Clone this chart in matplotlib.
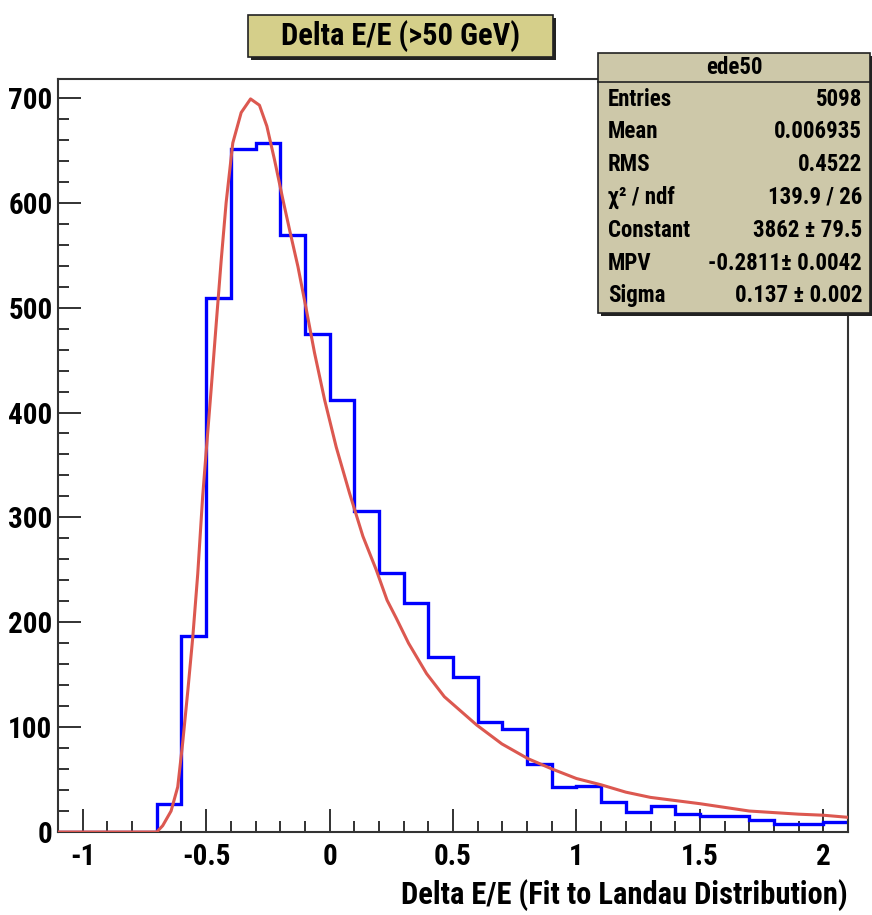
import matplotlib
matplotlib.use('Agg')
import matplotlib.pyplot as plt
from matplotlib.patches import Rectangle
from matplotlib.ticker import MultipleLocator
from matplotlib import font_manager
import numpy as np

# ---------------- data ----------------
bin_low = -1.1
bin_width = 0.1
counts = [0, 0, 0, 0,
          27, 187, 509, 651, 657, 569, 475, 412,
          306, 247, 218, 167, 148, 105, 98, 65, 43, 44,
          29, 19, 25, 17, 15, 15, 11, 8, 8, 10]

fit_x = [-1.1, -0.7, -0.676, -0.642, -0.615, -0.595, -0.574, -0.554, -0.534,
         -0.514, -0.500, -0.480, -0.459, -0.439, -0.419, -0.392, -0.358,
         -0.320, -0.284, -0.254, -0.223, -0.189, -0.159, -0.128, -0.094,
         -0.061, -0.020, 0.027, 0.081, 0.135, 0.189, 0.233, 0.270, 0.32,
         0.393, 0.465, 0.596, 0.698, 0.803, 0.902, 1.0, 1.1, 1.2, 1.3, 1.5,
         1.7, 1.9, 2.0, 2.1]
fit_y = [0, 0, 6, 20, 43, 85, 135, 186, 246,
         320, 362, 421, 485, 545, 600, 657, 686,
         699, 693, 673, 641, 603, 571, 539, 498,
         457, 412, 367, 323, 282, 250, 221, 204, 180,
         151, 129, 102, 84, 70, 60, 51, 45, 38, 33, 27,
         20, 17, 16, 14]

x_ticks = [-1, -0.5, 0, 0.5, 1, 1.5, 2]
x_tick_labels = ['-1', '-0.5', '0', '0.5', '1', '1.5', '2']
y_ticks = [0, 100, 200, 300, 400, 500, 600, 700]
y_tick_labels = ['0', '100', '200', '300', '400', '500', '600', '700']

title = 'Delta E/E (>50 GeV)'
x_label = 'Delta E/E (Fit to Landau Distribution)'
stats_name = 'ede50'
stats_labels = ['Entries', 'Mean', 'RMS', 'χ² / ndf', 'Constant', 'MPV', 'Sigma']
stats_values = ['5098', '0.006935', '0.4522', '139.9 / 26',
                '3862 ± 79.5', '-0.2811± 0.0042', '0.137 ± 0.002']

# ---------------- style ----------------
available = {f.name for f in font_manager.fontManager.ttflist}
FONT = [n for n in ['Roboto Condensed', 'Liberation Sans Narrow',
                    'Liberation Sans', 'DejaVu Sans'] if n in available]
plt.rcParams['font.family'] = FONT
plt.rcParams['font.weight'] = 'bold'

W, H = 872, 915
fig = plt.figure(figsize=(W / 100, H / 100), dpi=100)

def fx(px):
    return px / W

def fy(py):
    return 1 - py / H

ax_left, ax_right, ax_top, ax_bottom = 58, 848, 79, 832
ax = fig.add_axes([fx(ax_left), fy(ax_bottom), fx(ax_right - ax_left),
                   (ax_bottom - ax_top) / H])

edges = bin_low + bin_width * np.arange(len(counts) + 1)
ax.stairs(counts, edges, color='#0000ff', lw=2.4, baseline=None, zorder=2)
ax.plot(fit_x, fit_y, color='#dc5850', lw=2.2, zorder=3)

ax.set_xlim(edges[0], edges[-1])
ax.set_ylim(0, 718)

ax.set_xticks(x_ticks)
ax.set_xticklabels(x_tick_labels)
ax.set_yticks(y_ticks)
ax.set_yticklabels(y_tick_labels)
ax.xaxis.set_minor_locator(MultipleLocator(0.1))
ax.yaxis.set_minor_locator(MultipleLocator(20))
ax.tick_params(which='both', direction='in', top=False, right=False,
               color='#222222', width=1.3, labelsize=21)
ax.tick_params(which='major', length=16.5)
ax.tick_params(which='minor', length=8)
ax.tick_params(axis='y', pad=4)
ax.tick_params(axis='x', pad=8)
for lbl in ax.get_xticklabels() + ax.get_yticklabels():
    lbl.set_fontweight('bold')

for s in ax.spines.values():
    s.set_linewidth(1.5)
    s.set_color('#333333')

ax.set_xlabel(x_label, fontsize=22, fontweight='bold', loc='right', labelpad=6)

# ---------------- title box ----------------
tb_l, tb_r, tb_t, tb_b = 248, 553, 15, 57
sh = 3
fig.patches.append(Rectangle((fx(tb_l + sh), fy(tb_b + sh)), fx(tb_r - tb_l),
                             (tb_b - tb_t) / H, transform=fig.transFigure,
                             facecolor='#222222', edgecolor='none', zorder=1))
fig.patches.append(Rectangle((fx(tb_l), fy(tb_b)), fx(tb_r - tb_l),
                             (tb_b - tb_t) / H, transform=fig.transFigure,
                             facecolor='#d5cf8a', edgecolor='#222222', lw=1.2,
                             zorder=2))
fig.text(fx((tb_l + tb_r) / 2), fy((tb_t + tb_b) / 2), title, ha='center',
         va='center', fontsize=22, fontweight='bold', zorder=3)

# ---------------- stats box ----------------
sb_l, sb_r, sb_t, sb_b = 598, 870, 53, 313
fig.patches.append(Rectangle((fx(sb_l + sh), fy(sb_b + sh)), fx(sb_r - sb_l),
                             (sb_b - sb_t) / H, transform=fig.transFigure,
                             facecolor='#222222', edgecolor='none', zorder=4))
fig.patches.append(Rectangle((fx(sb_l), fy(sb_b)), fx(sb_r - sb_l),
                             (sb_b - sb_t) / H, transform=fig.transFigure,
                             facecolor='#cdc8a9', edgecolor='#222222', lw=1.2,
                             zorder=5))
sep_y = 82
fig.add_artist(plt.Line2D([fx(sb_l), fx(sb_r)], [fy(sep_y), fy(sep_y)],
                          transform=fig.transFigure, color='#222222', lw=1.2,
                          zorder=6))
fig.text(fx((sb_l + sb_r) / 2), fy(67), stats_name, ha='center', va='center',
         fontsize=16.5, fontweight='bold', zorder=7)
row0, row_step = 99, 32.8
for i, (lab, val) in enumerate(zip(stats_labels, stats_values)):
    yy = fy(row0 + i * row_step)
    fig.text(fx(608), yy, lab, ha='left', va='center', fontsize=16.5,
             fontweight='bold', zorder=7)
    fig.text(fx(862), yy, val, ha='right', va='center', fontsize=16.5,
             fontweight='bold', zorder=7)

fig.savefig('out.png', dpi=100)
